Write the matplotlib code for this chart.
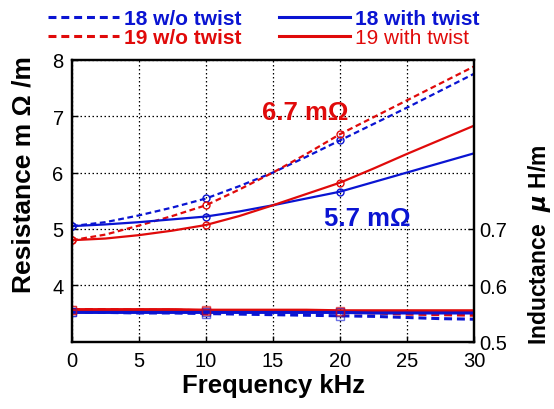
import numpy as np
import matplotlib
matplotlib.use('Agg')
import matplotlib.pyplot as plt

plt.rcParams['font.family'] = ['Liberation Sans', 'DejaVu Sans']

# frequency points (kHz)
freq = [0, 2.5, 5, 7.5, 10, 12.5, 15, 17.5, 20, 22.5, 25, 27.5, 30]
mark_freq = [0, 10, 20]

# resistance m ohm/m
r18_wo = [5.05, 5.12, 5.24, 5.38, 5.54, 5.76, 6.00, 6.28, 6.57, 6.86, 7.15, 7.45, 7.75]
r19_wo = [4.80, 4.90, 5.06, 5.23, 5.42, 5.70, 6.00, 6.33, 6.68, 6.98, 7.28, 7.58, 7.88]
r18_tw = [5.05, 5.08, 5.12, 5.17, 5.22, 5.31, 5.42, 5.54, 5.66, 5.83, 6.00, 6.17, 6.34]
r19_tw = [4.80, 4.83, 4.89, 4.97, 5.07, 5.23, 5.42, 5.62, 5.82, 6.07, 6.33, 6.58, 6.83]

# inductance uH/m
l18_wo = [0.553, 0.552, 0.551, 0.551, 0.550, 0.549, 0.548, 0.547, 0.546, 0.545, 0.543, 0.541, 0.540]
l19_wo = [0.557, 0.557, 0.556, 0.556, 0.555, 0.555, 0.554, 0.553, 0.552, 0.551, 0.549, 0.548, 0.547]
l18_tw = [0.552, 0.552, 0.552, 0.552, 0.552, 0.552, 0.552, 0.552, 0.552, 0.551, 0.551, 0.551, 0.551]
l19_tw = [0.557, 0.557, 0.557, 0.557, 0.556, 0.556, 0.556, 0.556, 0.555, 0.555, 0.555, 0.555, 0.555]

BLUE = '#0a14d2'
RED = '#e00a0a'

fig = plt.figure(figsize=(5.54, 4.10), dpi=100)
ax = fig.add_axes([0.130, 0.164, 0.7256, 0.688])
ax2 = ax.twinx()

mi = [freq.index(v) for v in mark_freq]
dash = (0, (2.6, 1.6))

h1, = ax.plot(freq, r18_wo, color=BLUE, lw=1.6, ls=dash)
h2, = ax.plot(freq, r19_wo, color=RED, lw=1.6, ls=dash)
h3, = ax.plot(freq, r18_tw, color=BLUE, lw=1.6)
h4, = ax.plot(freq, r19_tw, color=RED, lw=1.6)
for ser, c in [(r18_wo, BLUE), (r19_wo, RED), (r18_tw, BLUE), (r19_tw, RED)]:
    ax.plot(mark_freq, [ser[i] for i in mi], 'o', mfc='none', mec=c, ms=5, mew=1.0)

ax2.plot(freq, l18_wo, color=BLUE, lw=2.2, ls=dash)
ax2.plot(freq, l19_wo, color=RED, lw=2.2, ls=dash)
ax2.plot(freq, l19_tw, color=RED, lw=2.2)
ax2.plot(freq, l18_tw, color=BLUE, lw=2.2)
for ser, c in [(l18_wo, BLUE), (l19_wo, RED), (l18_tw, BLUE), (l19_tw, RED)]:
    ax2.plot(mark_freq, [ser[i] for i in mi], 's', mfc='none', mec=c, ms=6, mew=1.0, alpha=0.6)

ax.set_xlim(0, 30)
ax.set_ylim(3, 8)
ax2.set_ylim(0.5, 1.0)
ax.set_xticks(range(0, 31, 5))
ax.set_yticks([4, 5, 6, 7, 8])
ax2.set_yticks([0.5, 0.6, 0.7])
ax2.set_yticklabels(['0.5', '0.6', '0.7'])

ax.grid(True, color='black', ls=(0, (1.2, 2.0)), lw=0.9)
for a in (ax, ax2):
    a.tick_params(direction='in', labelsize=14.5, length=4, width=1.0)
    for s in a.spines.values():
        s.set_linewidth(1.6)
ax.tick_params(axis='y', pad=6)
ax.tick_params(axis='x', pad=7)

ax.set_xlabel('Frequency kHz', fontsize=18.5, fontweight='bold', labelpad=2)
ax.set_ylabel('Resistance m Ω /m', fontsize=19, fontweight='bold')
ax.yaxis.set_label_coords(-0.092, 0.598)
ax2.set_ylabel(r'Inductance  $\boldsymbol{\mu}$ H/m', fontsize=16.5, fontweight='bold')
ax2.yaxis.set_label_coords(1.129, 0.346)

ax.text(14.2, 7.08, '6.7 mΩ', color=RED, fontsize=18.5, fontweight='bold', va='center')
ax.text(18.8, 5.2, '5.7 mΩ', color=BLUE, fontsize=18.5, fontweight='bold', va='center')

leg = fig.legend([h1, h2, h3, h4],
                 ['18 w/o twist', '19 w/o twist', '18 with twist', '19 with twist'],
                 ncol=2, loc='upper left', bbox_to_anchor=(0.083, 0.98),
                 frameon=False, fontsize=15, handlelength=3.4, handletextpad=0.25,
                 columnspacing=1.8, labelspacing=0.0, borderaxespad=0, borderpad=0.1)
for t, c, w in zip(leg.get_texts(), [BLUE, RED, BLUE, RED], ['bold', 'bold', 'bold', 'normal']):
    t.set_color(c)
    t.set_fontweight(w)
for l in leg.get_lines():
    l.set_linewidth(2.2)

fig.savefig('out.png', dpi=100)
